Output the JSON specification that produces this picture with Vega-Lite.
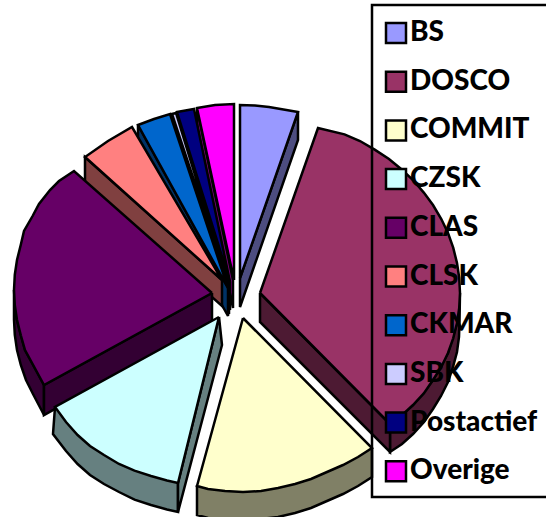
{"$schema":"https://vega.github.io/schema/vega-lite/v6.json","width":546,"height":517,"padding":0,"autosize":"none","background":"white","view":{"stroke":null},
"config":{"legend":{"orient":"none","strokeWidth":2.5,"strokeColor":"#000"}},
"data":{"values":[
{"id":1,"p":"BS zijkant","o":1,"x":240,"y":278},{"id":1,"p":"BS zijkant","o":2,"x":298,"y":112},{"id":1,"p":"BS zijkant","o":3,"x":298,"y":140},{"id":1,"p":"BS zijkant","o":4,"x":240,"y":307},{"id":1,"p":"BS zijkant","o":5,"x":240,"y":278},
{"id":2,"p":"BS","o":1,"x":240,"y":278},{"id":2,"p":"BS","o":2,"x":240,"y":105},{"id":2,"p":"BS","o":3,"x":255,"y":105.5},{"id":2,"p":"BS","o":4,"x":269,"y":107},{"id":2,"p":"BS","o":5,"x":298,"y":112},{"id":2,"p":"BS","o":6,"x":240,"y":278},
{"id":3,"p":"Overige zijkant","o":1,"x":233,"y":280},{"id":3,"p":"Overige zijkant","o":2,"x":197,"y":108},{"id":3,"p":"Overige zijkant","o":3,"x":197,"y":136},{"id":3,"p":"Overige zijkant","o":4,"x":233,"y":308},{"id":3,"p":"Overige zijkant","o":5,"x":233,"y":280},
{"id":4,"p":"Overige","o":1,"x":234,"y":280},{"id":4,"p":"Overige","o":2,"x":234,"y":104},{"id":4,"p":"Overige","o":3,"x":215,"y":105},{"id":4,"p":"Overige","o":4,"x":197,"y":108},{"id":4,"p":"Overige","o":5,"x":234,"y":280},
{"id":5,"p":"Postactief zijkant","o":1,"x":230,"y":282},{"id":5,"p":"Postactief zijkant","o":2,"x":177,"y":112},{"id":5,"p":"Postactief zijkant","o":3,"x":177,"y":140},{"id":5,"p":"Postactief zijkant","o":4,"x":230,"y":310},{"id":5,"p":"Postactief zijkant","o":5,"x":230,"y":282},
{"id":6,"p":"Postactief","o":1,"x":230,"y":282},{"id":6,"p":"Postactief","o":2,"x":194,"y":109},{"id":6,"p":"Postactief","o":3,"x":177,"y":112},{"id":6,"p":"Postactief","o":4,"x":230,"y":282},
{"id":7,"p":"SBK zijkant","o":1,"x":229,"y":286},{"id":7,"p":"SBK zijkant","o":2,"x":172,"y":114},{"id":7,"p":"SBK zijkant","o":3,"x":172,"y":142},{"id":7,"p":"SBK zijkant","o":4,"x":229,"y":314},{"id":7,"p":"SBK zijkant","o":5,"x":229,"y":286},
{"id":8,"p":"SBK","o":1,"x":229,"y":286},{"id":8,"p":"SBK","o":2,"x":176,"y":113},{"id":8,"p":"SBK","o":3,"x":172,"y":114},{"id":8,"p":"SBK","o":4,"x":229,"y":286},
{"id":9,"p":"CKMAR zijkant","o":1,"x":228,"y":288},{"id":9,"p":"CKMAR zijkant","o":2,"x":138,"y":125},{"id":9,"p":"CKMAR zijkant","o":3,"x":138,"y":153},{"id":9,"p":"CKMAR zijkant","o":4,"x":228,"y":316},{"id":9,"p":"CKMAR zijkant","o":5,"x":228,"y":288},
{"id":10,"p":"CKMAR","o":1,"x":228,"y":288},{"id":10,"p":"CKMAR","o":2,"x":170,"y":114},{"id":10,"p":"CKMAR","o":3,"x":154,"y":119},{"id":10,"p":"CKMAR","o":4,"x":138,"y":125},{"id":10,"p":"CKMAR","o":5,"x":228,"y":288},
{"id":11,"p":"CLSK zijkant","o":1,"x":222,"y":280},{"id":11,"p":"CLSK zijkant","o":2,"x":85,"y":157},{"id":11,"p":"CLSK zijkant","o":3,"x":85,"y":184},{"id":11,"p":"CLSK zijkant","o":4,"x":222,"y":306},{"id":11,"p":"CLSK zijkant","o":5,"x":222,"y":280},
{"id":12,"p":"CLSK","o":1,"x":222,"y":280},{"id":12,"p":"CLSK","o":2,"x":132,"y":127},{"id":12,"p":"CLSK","o":3,"x":108,"y":141},{"id":12,"p":"CLSK","o":4,"x":85,"y":157},{"id":12,"p":"CLSK","o":5,"x":222,"y":280},
{"id":13,"p":"DOSCO zijkant","o":1,"x":460,"y":293},{"id":13,"p":"DOSCO zijkant","o":2,"x":459.5,"y":322},{"id":13,"p":"DOSCO zijkant","o":3,"x":459,"y":337},{"id":13,"p":"DOSCO zijkant","o":4,"x":457,"y":352},{"id":13,"p":"DOSCO zijkant","o":5,"x":453,"y":367},{"id":13,"p":"DOSCO zijkant","o":6,"x":448,"y":382},{"id":13,"p":"DOSCO zijkant","o":7,"x":441,"y":396},{"id":13,"p":"DOSCO zijkant","o":8,"x":433,"y":409},{"id":13,"p":"DOSCO zijkant","o":9,"x":424,"y":422},{"id":13,"p":"DOSCO zijkant","o":10,"x":413,"y":434},{"id":13,"p":"DOSCO zijkant","o":11,"x":402,"y":444},{"id":13,"p":"DOSCO zijkant","o":12,"x":390,"y":452},{"id":13,"p":"DOSCO zijkant","o":13,"x":390,"y":424},{"id":13,"p":"DOSCO zijkant","o":14,"x":413,"y":405},{"id":13,"p":"DOSCO zijkant","o":15,"x":433,"y":380},{"id":13,"p":"DOSCO zijkant","o":16,"x":448,"y":353},{"id":13,"p":"DOSCO zijkant","o":17,"x":457,"y":323},{"id":13,"p":"DOSCO zijkant","o":18,"x":460,"y":293},
{"id":14,"p":"DOSCO zijkant","o":1,"x":260,"y":293},{"id":14,"p":"DOSCO zijkant","o":2,"x":390,"y":424},{"id":14,"p":"DOSCO zijkant","o":3,"x":390,"y":452},{"id":14,"p":"DOSCO zijkant","o":4,"x":260,"y":322},{"id":14,"p":"DOSCO zijkant","o":5,"x":260,"y":293},
{"id":15,"p":"DOSCO","o":1,"x":260,"y":293},{"id":15,"p":"DOSCO","o":2,"x":318,"y":128},{"id":15,"p":"DOSCO","o":3,"x":344.5,"y":134.4},{"id":15,"p":"DOSCO","o":4,"x":360,"y":141},{"id":15,"p":"DOSCO","o":5,"x":374.7,"y":149.6},{"id":15,"p":"DOSCO","o":6,"x":389,"y":159},{"id":15,"p":"DOSCO","o":7,"x":401.4,"y":169.3},{"id":15,"p":"DOSCO","o":8,"x":413,"y":180},{"id":15,"p":"DOSCO","o":9,"x":423.8,"y":192.6},{"id":15,"p":"DOSCO","o":10,"x":433,"y":205},{"id":15,"p":"DOSCO","o":11,"x":441.3,"y":219},{"id":15,"p":"DOSCO","o":12,"x":448,"y":233},{"id":15,"p":"DOSCO","o":13,"x":453.2,"y":247.7},{"id":15,"p":"DOSCO","o":14,"x":457,"y":263},{"id":15,"p":"DOSCO","o":15,"x":459.2,"y":277.7},{"id":15,"p":"DOSCO","o":16,"x":460,"y":293},{"id":15,"p":"DOSCO","o":17,"x":459.2,"y":308.3},{"id":15,"p":"DOSCO","o":18,"x":457,"y":323},{"id":15,"p":"DOSCO","o":19,"x":453.2,"y":338.3},{"id":15,"p":"DOSCO","o":20,"x":448,"y":353},{"id":15,"p":"DOSCO","o":21,"x":441.3,"y":367},{"id":15,"p":"DOSCO","o":22,"x":433,"y":380},{"id":15,"p":"DOSCO","o":23,"x":423.8,"y":393.4},{"id":15,"p":"DOSCO","o":24,"x":413,"y":405},{"id":15,"p":"DOSCO","o":25,"x":401.4,"y":415.7},{"id":15,"p":"DOSCO","o":26,"x":390,"y":424},{"id":15,"p":"DOSCO","o":27,"x":260,"y":293},
{"id":16,"p":"CLAS zijkant","o":1,"x":14,"y":290},{"id":16,"p":"CLAS zijkant","o":2,"x":14.8,"y":305},{"id":16,"p":"CLAS zijkant","o":3,"x":17,"y":320},{"id":16,"p":"CLAS zijkant","o":4,"x":20.8,"y":335},{"id":16,"p":"CLAS zijkant","o":5,"x":25,"y":350},{"id":16,"p":"CLAS zijkant","o":6,"x":32.6,"y":364},{"id":16,"p":"CLAS zijkant","o":7,"x":44,"y":385},{"id":16,"p":"CLAS zijkant","o":8,"x":44,"y":415},{"id":16,"p":"CLAS zijkant","o":9,"x":33,"y":394},{"id":16,"p":"CLAS zijkant","o":10,"x":26,"y":380},{"id":16,"p":"CLAS zijkant","o":11,"x":20.8,"y":365},{"id":16,"p":"CLAS zijkant","o":12,"x":17,"y":350},{"id":16,"p":"CLAS zijkant","o":13,"x":14.8,"y":335},{"id":16,"p":"CLAS zijkant","o":14,"x":14,"y":320},{"id":16,"p":"CLAS zijkant","o":15,"x":14,"y":290},
{"id":17,"p":"CLAS zijkant","o":1,"x":212,"y":293},{"id":17,"p":"CLAS zijkant","o":2,"x":44,"y":385},{"id":17,"p":"CLAS zijkant","o":3,"x":44,"y":415},{"id":17,"p":"CLAS zijkant","o":4,"x":212,"y":321},{"id":17,"p":"CLAS zijkant","o":5,"x":212,"y":293},
{"id":18,"p":"CLAS","o":1,"x":212,"y":293},{"id":18,"p":"CLAS","o":2,"x":74,"y":171},{"id":18,"p":"CLAS","o":3,"x":59,"y":181},{"id":18,"p":"CLAS","o":4,"x":50,"y":190},{"id":18,"p":"CLAS","o":5,"x":39,"y":204},{"id":18,"p":"CLAS","o":6,"x":32.6,"y":216},{"id":18,"p":"CLAS","o":7,"x":24,"y":231},{"id":18,"p":"CLAS","o":8,"x":20.8,"y":244.7},{"id":18,"p":"CLAS","o":9,"x":17,"y":260},{"id":18,"p":"CLAS","o":10,"x":14.8,"y":274.7},{"id":18,"p":"CLAS","o":11,"x":14,"y":290},{"id":18,"p":"CLAS","o":12,"x":14.8,"y":305.3},{"id":18,"p":"CLAS","o":13,"x":17,"y":320},{"id":18,"p":"CLAS","o":14,"x":20.8,"y":335.3},{"id":18,"p":"CLAS","o":15,"x":25,"y":350},{"id":18,"p":"CLAS","o":16,"x":32.6,"y":364},{"id":18,"p":"CLAS","o":17,"x":44,"y":385},{"id":18,"p":"CLAS","o":18,"x":212,"y":293},
{"id":19,"p":"CZSK zijkant","o":1,"x":55,"y":407},{"id":19,"p":"CZSK zijkant","o":2,"x":53,"y":434},{"id":19,"p":"CZSK zijkant","o":3,"x":66,"y":451},{"id":19,"p":"CZSK zijkant","o":4,"x":77.6,"y":464},{"id":19,"p":"CZSK zijkant","o":5,"x":90,"y":475},{"id":19,"p":"CZSK zijkant","o":6,"x":104,"y":484},{"id":19,"p":"CZSK zijkant","o":7,"x":119,"y":492},{"id":19,"p":"CZSK zijkant","o":8,"x":134.5,"y":499.6},{"id":19,"p":"CZSK zijkant","o":9,"x":151,"y":505},{"id":19,"p":"CZSK zijkant","o":10,"x":167,"y":509.5},{"id":19,"p":"CZSK zijkant","o":11,"x":178,"y":512},{"id":19,"p":"CZSK zijkant","o":12,"x":178,"y":483},{"id":19,"p":"CZSK zijkant","o":13,"x":55,"y":407},
{"id":20,"p":"CZSK zijkant","o":1,"x":219,"y":317},{"id":20,"p":"CZSK zijkant","o":2,"x":178,"y":483},{"id":20,"p":"CZSK zijkant","o":3,"x":178,"y":512},{"id":20,"p":"CZSK zijkant","o":4,"x":222,"y":345},{"id":20,"p":"CZSK zijkant","o":5,"x":219,"y":317},
{"id":21,"p":"CZSK","o":1,"x":219,"y":317},{"id":21,"p":"CZSK","o":2,"x":178,"y":483},{"id":21,"p":"CZSK","o":3,"x":167,"y":480.5},{"id":21,"p":"CZSK","o":4,"x":151,"y":476},{"id":21,"p":"CZSK","o":5,"x":134.5,"y":470.6},{"id":21,"p":"CZSK","o":6,"x":119,"y":464},{"id":21,"p":"CZSK","o":7,"x":104,"y":455},{"id":21,"p":"CZSK","o":8,"x":90,"y":446},{"id":21,"p":"CZSK","o":9,"x":77.6,"y":435},{"id":21,"p":"CZSK","o":10,"x":66,"y":422},{"id":21,"p":"CZSK","o":11,"x":55,"y":407},{"id":21,"p":"CZSK","o":12,"x":219,"y":317},
{"id":22,"p":"COMMIT zijkant","o":1,"x":372,"y":448},{"id":22,"p":"COMMIT zijkant","o":2,"x":372,"y":477},{"id":22,"p":"COMMIT zijkant","o":3,"x":358,"y":486},{"id":22,"p":"COMMIT zijkant","o":4,"x":343,"y":494},{"id":22,"p":"COMMIT zijkant","o":5,"x":327,"y":501},{"id":22,"p":"COMMIT zijkant","o":6,"x":311,"y":508},{"id":22,"p":"COMMIT zijkant","o":7,"x":295,"y":513},{"id":22,"p":"COMMIT zijkant","o":8,"x":278,"y":517},{"id":22,"p":"COMMIT zijkant","o":9,"x":243,"y":521},{"id":22,"p":"COMMIT zijkant","o":10,"x":208,"y":518},{"id":22,"p":"COMMIT zijkant","o":11,"x":197,"y":515},{"id":22,"p":"COMMIT zijkant","o":12,"x":197,"y":486},{"id":22,"p":"COMMIT zijkant","o":13,"x":372,"y":448},
{"id":23,"p":"COMMIT","o":1,"x":243,"y":318},{"id":23,"p":"COMMIT","o":2,"x":372,"y":448},{"id":23,"p":"COMMIT","o":3,"x":358,"y":457},{"id":23,"p":"COMMIT","o":4,"x":343,"y":465},{"id":23,"p":"COMMIT","o":5,"x":327,"y":472},{"id":23,"p":"COMMIT","o":6,"x":311,"y":479},{"id":23,"p":"COMMIT","o":7,"x":295,"y":484},{"id":23,"p":"COMMIT","o":8,"x":278,"y":488},{"id":23,"p":"COMMIT","o":9,"x":261,"y":491},{"id":23,"p":"COMMIT","o":10,"x":243,"y":492},{"id":23,"p":"COMMIT","o":11,"x":225,"y":491},{"id":23,"p":"COMMIT","o":12,"x":208,"y":489},{"id":23,"p":"COMMIT","o":13,"x":197,"y":486},{"id":23,"p":"COMMIT","o":14,"x":243,"y":318}
]},
"mark":{"type":"line","stroke":"#000","strokeWidth":2.5,"strokeJoin":"miter","clip":false},
"encoding":{
"x":{"field":"x","type":"quantitative","scale":{"domain":[0,546],"nice":false,"zero":false},"axis":null},
"y":{"field":"y","type":"quantitative","scale":{"domain":[517,0],"nice":false,"zero":false},"axis":null},
"order":{"field":"o","type":"quantitative"},
"detail":{"field":"id","type":"nominal"},
"fill":{"field":"p","type":"nominal","scale":{
"domain":["BS","DOSCO","COMMIT","CZSK","CLAS","CLSK","CKMAR","SBK","Postactief","Overige","BS zijkant","DOSCO zijkant","COMMIT zijkant","CZSK zijkant","CLAS zijkant","CLSK zijkant","CKMAR zijkant","SBK zijkant","Postactief zijkant","Overige zijkant"],
"range":["#9999FF","#993366","#FFFFCC","#CCFFFF","#660066","#FF8080","#0066CC","#CCCCFF","#000080","#FF00FF","#4D4D80","#4D1A33","#808066","#668080","#330033","#804040","#003366","#666680","#000040","#800080"]},
"legend":{"values":["BS","DOSCO","COMMIT","CZSK","CLAS","CLSK","CKMAR","SBK","Postactief","Overige"],"title":" ","titleFontSize":1,"titlePadding":3,"orient":"none","legendX":372,"legendY":5,"padding":10,"strokeColor":"#000","zindex":1,
"symbolType":"square","symbolSize":400,"symbolStrokeColor":"#000","symbolStrokeWidth":2.5,"rowPadding":18.7,"labelFont":"Lato","labelFontWeight":900,"labelFontSize":28,"labelColor":"#000","labelOffset":0,"labelLimit":300}}
}}
